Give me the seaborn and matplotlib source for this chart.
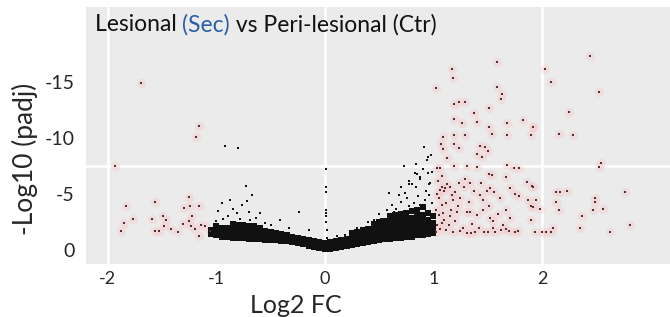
import pandas as pd
import matplotlib
matplotlib.use("Agg")
import matplotlib.pyplot as plt
import seaborn as sns

# ==========================
# Data
# ==========================

# dense non-significant core of the "V"
band_pts = [
    (-1.05, 1.4), (-1.05, 1.8),
    (-1.00, 1.3), (-1.00, 1.7), (-1.00, 2.1),
    (-0.95, 1.2), (-0.95, 1.6), (-0.95, 2.0),
    (-0.90, 1.2), (-0.90, 1.6), (-0.90, 2.0),
    (-0.85, 1.1), (-0.85, 1.5), (-0.85, 1.9), (-0.85, 2.3),
    (-0.80, 1.1), (-0.80, 1.5), (-0.80, 1.9), (-0.80, 2.2),
    (-0.75, 1.1), (-0.75, 1.5), (-0.75, 1.9), (-0.75, 2.2),
    (-0.70, 1.0), (-0.70, 1.4), (-0.70, 1.8), (-0.70, 2.1),
    (-0.65, 1.0), (-0.65, 1.4), (-0.65, 1.8), (-0.65, 2.1),
    (-0.60, 1.0), (-0.60, 1.3), (-0.60, 1.7), (-0.60, 2.0),
    (-0.55, 0.9), (-0.55, 1.3), (-0.55, 1.7),
    (-0.50, 0.9), (-0.50, 1.3), (-0.50, 1.6),
    (-0.45, 0.9), (-0.45, 1.2), (-0.45, 1.5),
    (-0.40, 0.8), (-0.40, 1.1), (-0.40, 1.4),
    (-0.35, 0.8), (-0.35, 1.1), (-0.35, 1.3),
    (-0.30, 0.7), (-0.30, 1.0), (-0.30, 1.2),
    (-0.25, 0.6), (-0.25, 0.9), (-0.25, 1.1),
    (-0.20, 0.5), (-0.20, 0.8), (-0.20, 1.0),
    (-0.15, 0.4), (-0.15, 0.7), (-0.15, 0.9),
    (-0.10, 0.3), (-0.10, 0.6), (-0.10, 0.8),
    (-0.05, 0.2), (-0.05, 0.5), (-0.05, 0.7),
    (0.00, 0.1), (0.00, 0.4), (0.00, 0.6),
    (0.05, 0.1), (0.05, 0.4), (0.05, 0.7),
    (0.10, 0.2), (0.10, 0.5), (0.10, 0.8),
    (0.15, 0.3), (0.15, 0.6), (0.15, 0.9),
    (0.20, 0.35), (0.20, 0.7), (0.20, 1.0),
    (0.25, 0.45), (0.25, 0.8), (0.25, 1.2), (0.25, 1.5),
    (0.30, 0.5), (0.30, 0.9), (0.30, 1.3), (0.30, 1.6),
    (0.35, 0.6), (0.35, 1.0), (0.35, 1.4), (0.35, 1.8),
    (0.40, 0.7), (0.40, 1.1), (0.40, 1.5), (0.40, 1.9),
    (0.45, 0.8), (0.45, 1.2), (0.45, 1.6), (0.45, 2.0), (0.45, 2.3),
    (0.50, 0.9), (0.50, 1.3), (0.50, 1.7), (0.50, 2.1), (0.50, 2.5),
    (0.55, 1.0), (0.55, 1.4), (0.55, 1.8), (0.55, 2.2), (0.55, 2.6),
    (0.60, 1.0), (0.60, 1.4), (0.60, 1.8), (0.60, 2.2), (0.60, 2.6), (0.60, 3.0),
    (0.65, 1.1), (0.65, 1.5), (0.65, 1.9), (0.65, 2.3), (0.65, 2.7), (0.65, 3.1),
    (0.70, 1.1), (0.70, 1.5), (0.70, 1.9), (0.70, 2.3), (0.70, 2.7), (0.70, 3.2),
    (0.75, 1.2), (0.75, 1.6), (0.75, 2.0), (0.75, 2.4), (0.75, 2.8), (0.75, 3.3),
    (0.80, 1.2), (0.80, 1.6), (0.80, 2.0), (0.80, 2.4), (0.80, 2.9), (0.80, 3.5),
    (0.85, 1.3), (0.85, 1.7), (0.85, 2.1), (0.85, 2.5), (0.85, 3.0), (0.85, 3.6),
    (0.90, 1.3), (0.90, 1.7), (0.90, 2.1), (0.90, 2.6), (0.90, 3.1), (0.90, 3.8),
    (0.95, 1.4), (0.95, 1.8), (0.95, 2.2), (0.95, 2.7), (0.95, 3.3),
    (1.00, 1.5), (1.00, 1.9), (1.00, 2.4), (1.00, 3.0),
]

# scattered non-significant genes
ns_pts = [
    (-0.95, 4.2), (-0.87, 4.5), (-0.73, 5.7), (-0.76, 4.0), (-0.72, 4.4),
    (-0.85, 3.7), (-0.81, 3.3), (-0.89, 3.0), (-0.94, 2.8), (-0.78, 2.8),
    (-0.70, 3.4), (-0.69, 2.7), (-0.67, 4.9), (-0.60, 3.3), (-0.63, 2.9),
    (-0.41, 2.7), (-0.24, 3.4), (-0.15, 1.8), (-0.50, 2.2), (-0.55, 2.4),
    (-0.33, 2.0), (-0.92, 9.3), (-0.80, 9.1), (-1.00, 2.6), (-0.98, 3.5),
    (0.01, 7.2), (0.01, 5.6), (0.01, 5.2), (0.01, 3.6), (0.01, 3.3),
    (0.01, 3.0), (0.02, 1.8), (0.02, 1.1), (0.01, 2.5),
    (0.11, 1.25), (0.19, 1.3), (0.35, 1.8), (0.45, 2.7), (0.52, 2.8),
    (0.59, 5.1), (0.68, 4.9), (0.74, 5.1), (0.80, 5.9), (0.84, 5.6),
    (0.73, 7.5), (0.84, 7.7), (0.91, 9.2), (0.98, 8.5), (0.95, 8.3),
    (0.94, 8.0), (0.90, 7.2), (0.62, 4.0), (0.66, 3.7), (0.70, 4.3),
    (0.76, 4.6), (0.78, 3.9), (0.82, 4.2), (0.86, 4.8), (0.88, 4.0),
    (0.92, 4.5), (0.96, 4.9), (0.99, 4.2), (0.93, 5.3), (0.97, 6.0),
    (0.88, 6.5), (0.78, 6.2), (0.70, 5.6), (0.95, 6.9), (0.85, 6.8),
    (0.99, 7.0), (0.57, 3.6), (0.50, 3.2), (0.40, 2.5), (0.30, 2.0),
    (0.64, 3.4), (0.83, 6.85), (0.78, 5.9), (0.88, 6.3), (0.96, 5.9),
]

# significant genes (|log2FC| > 1)
sig_pts = [
    (-1.69, 14.9), (-1.16, 11.1), (-1.19, 10.1), (-1.93, 7.5), (-1.83, 3.9),
    (-1.77, 2.8), (-1.85, 2.4), (-1.88, 1.7), (-1.56, 4.3), (-1.59, 2.8),
    (-1.49, 3.0), (-1.46, 2.7), (-1.48, 2.1), (-1.56, 1.7), (-1.53, 1.7),
    (-1.42, 1.85), (-1.35, 1.6), (-1.31, 2.3), (-1.25, 4.7), (-1.30, 3.75),
    (-1.22, 3.0), (-1.25, 2.6), (-1.23, 2.1), (-1.20, 1.9), (-1.16, 3.9),
    (-1.14, 2.2), (-1.16, 1.25), (-1.06, 1.7), (-1.10, 2.1), (-1.24, 3.9),
    (1.59, 16.8), (1.17, 16.2), (1.18, 15.4), (1.02, 14.5), (1.59, 14.6),
    (1.63, 13.9), (1.62, 13.5), (1.19, 13.0), (1.24, 13.2), (1.29, 13.2),
    (1.51, 12.7), (1.37, 12.2), (1.19, 11.7), (1.26, 11.3), (1.40, 11.4),
    (1.83, 11.6), (1.92, 11.0), (1.68, 11.3), (1.51, 11.0), (1.54, 10.4),
    (1.68, 10.3), (1.90, 10.3), (1.29, 10.3), (1.19, 10.3), (1.09, 10.1),
    (1.07, 9.5), (1.19, 9.5), (1.24, 9.1), (1.09, 9.0), (1.43, 9.3),
    (1.48, 9.2), (1.40, 8.6), (1.45, 8.3), (1.50, 8.8), (1.13, 8.2),
    (1.03, 7.3), (1.06, 7.3), (1.19, 7.5), (1.31, 7.5), (1.40, 7.4),
    (1.51, 6.8), (1.54, 6.7), (1.68, 7.6), (1.74, 7.3), (1.79, 7.3),
    (1.91, 5.7), (1.90, 3.9), (1.87, 4.5), (1.06, 5.4), (1.08, 5.6),
    (1.10, 5.3), (1.11, 5.5), (1.15, 5.65), (1.17, 4.9), (1.18, 4.5),
    (1.12, 4.2), (1.23, 3.9), (1.09, 3.3), (1.15, 3.0), (1.08, 2.4),
    (1.14, 2.2), (1.18, 1.6), (1.31, 1.5), (1.35, 1.5), (1.38, 1.6),
    (1.47, 1.6), (1.50, 1.6), (1.57, 1.6), (1.67, 1.9), (1.75, 1.6),
    (1.78, 1.7), (1.64, 2.2), (1.31, 3.4), (1.34, 3.4), (1.40, 3.1),
    (1.46, 3.6), (1.52, 2.9), (1.55, 2.6), (1.60, 3.2), (1.67, 3.6),
    (1.71, 2.9), (1.43, 4.9), (1.49, 5.3), (1.52, 5.5), (1.56, 5.2),
    (1.61, 4.6), (1.46, 4.5), (1.51, 3.9), (1.37, 5.3), (1.34, 6.0),
    (1.29, 6.3), (1.24, 6.0), (1.44, 6.0), (1.71, 5.5), (1.75, 5.0),
    (1.79, 4.8), (1.86, 6.1), (1.67, 6.5),
    (1.03, 5.0), (1.05, 4.6), (1.08, 4.0), (1.02, 3.6), (1.05, 3.1),
    (1.10, 2.7), (1.03, 2.2), (1.06, 1.9), (1.12, 1.8), (1.02, 1.6),
    (1.20, 2.6), (1.22, 3.4), (1.25, 4.6), (1.27, 2.0), (1.13, 5.9),
    (1.04, 6.2), (1.08, 6.6), (1.20, 5.2), (1.16, 3.6), (1.28, 5.6),
    (1.33, 4.3), (1.36, 2.3), (1.42, 2.0), (1.55, 2.0), (1.62, 1.8),
    (1.70, 1.7), (1.25, 1.7),
    (2.44, 17.3), (2.03, 16.2), (2.08, 15.0), (2.53, 14.1), (2.25, 12.3),
    (1.92, 11.0), (2.16, 10.4), (2.29, 10.3), (2.54, 7.8), (2.53, 7.4),
    (1.92, 5.6), (2.13, 5.2), (2.17, 5.2), (2.23, 5.3), (1.95, 4.5),
    (2.13, 4.3), (1.92, 3.8), (1.98, 3.7), (2.16, 3.6), (2.49, 4.6),
    (2.49, 4.3), (2.47, 3.6), (2.56, 3.7), (2.77, 5.2), (2.37, 3.0),
    (1.90, 2.7), (2.81, 2.2), (2.35, 1.95), (2.63, 1.65), (1.94, 1.65),
    (2.00, 1.6), (2.04, 1.6), (2.08, 1.65), (2.10, 1.95),
]

x_ticks = [-2, -1, 0, 1, 2]
y_ticks = [0, 5, 10, 15]
y_tick_labels = ["0", "-5", "-10", "-15"]

band = pd.DataFrame(band_pts, columns=["log2fc", "padj"])
ns = pd.DataFrame(ns_pts, columns=["log2fc", "padj"])
sig = pd.DataFrame(sig_pts, columns=["log2fc", "padj"])

# ==========================
# Plot
# ==========================

sns.set_style("white")
plt.rcParams["font.family"] = ["Lato", "DejaVu Sans"]

fig = plt.figure(figsize=(6.7, 3.17), dpi=100)
ax = fig.add_axes([86 / 670, 53 / 317, 584 / 670, 257 / 317])
ax.set_facecolor("#ebebeb")

# faint pink halo behind significant genes
sns.scatterplot(data=sig, x="log2fc", y="padj", ax=ax, s=45, color="#f8c4c6",
                alpha=0.35, linewidth=0, legend=False)
sns.scatterplot(data=band, x="log2fc", y="padj", ax=ax, s=16, marker="s",
                color="#111111", linewidth=0, legend=False)
sns.scatterplot(data=ns, x="log2fc", y="padj", ax=ax, s=4, marker="s",
                color="#111111", linewidth=0, legend=False)
sns.scatterplot(data=sig, x="log2fc", y="padj", ax=ax, s=4, marker="s",
                color="#4a3234", linewidth=0, legend=False)

ax.set_xlim(-2.2, 3.18)
ax.set_ylim(-1.25, 21.7)

ax.set_xticks(x_ticks)
ax.set_xticklabels([str(t) for t in x_ticks])
ax.set_yticks(y_ticks)
ax.set_yticklabels(y_tick_labels)
ax.xaxis.remove_overlapping_locs = False
ax.set_xticks([-2, 0, 2], minor=True)
ax.set_yticks([7.5], minor=True)
ax.grid(False)
ax.grid(which="minor", color="white", linewidth=1.8)
ax.set_axisbelow(True)
ax.tick_params(which="both", length=0)
ax.tick_params(axis="x", labelsize=13, pad=5)
ax.tick_params(axis="y", labelsize=14, pad=8)
for s in ax.spines.values():
    s.set_visible(False)

ax.set_xlabel("Log2 FC", fontsize=18)
ax.xaxis.set_label_coords(0.36, -0.115)
ax.set_ylabel("-Log10 (padj)", fontsize=19, va="center")
ax.yaxis.set_label_coords(-0.105, 0.41)

# two-colour title inside the panel
t1 = ax.text(0.015, 0.93, "Lesional ", transform=ax.transAxes, fontsize=16.5,
             va="center", color="#111111")
t2 = ax.annotate("(Sec)", xy=(1, 0), xycoords=t1, va="bottom", fontsize=16.5,
                 color="#2b5ea7")
ax.annotate(" vs Peri-lesional (Ctr)", xy=(1, 0), xycoords=t2, va="bottom",
            fontsize=16.5, color="#111111")

plt.savefig("out.png", dpi=100)
